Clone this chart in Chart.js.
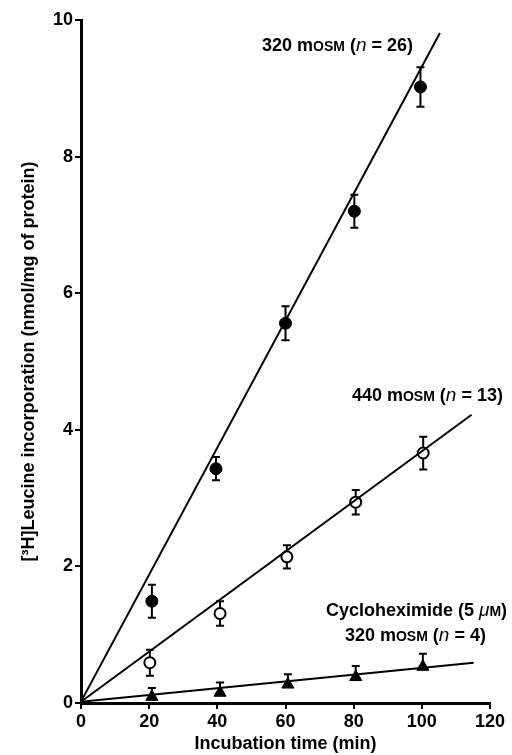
<!DOCTYPE html>
<html>
<head>
<meta charset="utf-8">
<script src="https://cdn.jsdelivr.net/npm/chart.js@4.4.1/dist/chart.umd.min.js"></script>
<style>
  html, body { margin: 0; padding: 0; background: #fff; }
  #wrap { width: 512px; height: 755px; }
</style>
</head>
<body>
<div id="wrap"><canvas id="chart" width="512" height="755"></canvas></div>
<script>
// incubation times (min) for each series
const timesIso = [20.8, 39.6, 60, 80.2, 99.6];
const timesHyper = [20.2, 40.8, 60.4, 80.6, 100.4];
const timesCyclo = [20.8, 40.8, 60.7, 80.6, 100.3];

// [3H]leucine incorporation (nmol/mg protein)
const iso320 = [1.49, 3.43, 5.56, 7.2, 9.02];
const iso320Err = [0.24, 0.17, 0.25, 0.24, 0.29];
const hyper440 = [0.59, 1.31, 2.14, 2.94, 3.66];
const hyper440Err = [0.19, 0.18, 0.17, 0.18, 0.24];
const cyclo320 = [0.09, 0.15, 0.27, 0.38, 0.53];
const cyclo320Err = [0.13, 0.15, 0.15, 0.16, 0.19];

// fitted regression lines (start / end points)
const fitIso = [{ x: 0, y: 0.02 }, { x: 105.3, y: 9.81 }];
const fitHyper = [{ x: 0, y: 0.02 }, { x: 114.6, y: 4.22 }];
const fitCyclo = [{ x: 0, y: 0.02 }, { x: 115.2, y: 0.59 }];

const xTicks = [0, 20, 40, 60, 80, 100, 120];
const yTicks = [0, 2, 4, 6, 8, 10];

const pts = (xs, ys) => xs.map((x, i) => ({ x, y: ys[i] }));

// rich text labels, anchored at their right edge in data units
const labels = [
  { x: 97.4, y: 9.63, parts: [["320 m"], ["OSM", "sc"], [" ("], ["n", "it"], [" = 26)"]] },
  { x: 123.8, y: 4.51, parts: [["440 m"], ["OSM", "sc"], [" ("], ["n", "it"], [" = 13)"]] },
  { x: 125, y: 1.36, parts: [["Cycloheximide (5 "], ["\u03bc", "it"], ["M", "sc"], [")"]] },
  { x: 118.8, y: 0.99, parts: [["320 m"], ["OSM", "sc"], [" ("], ["n", "it"], [" = 4)"]] },
];

function partFont(kind) {
  if (kind === "sc") return "bold 14px Arial, 'Liberation Sans', sans-serif";
  if (kind === "it") return "italic 19px Arial, 'Liberation Sans', sans-serif";
  return "bold 18px Arial, 'Liberation Sans', sans-serif";
}

const errorBars = {
  id: "errorBars",
  beforeDatasetsDraw(chart) {
    const { ctx, scales: { x, y } } = chart;
    const sets = [
      [timesIso, iso320, iso320Err, true],
      [timesHyper, hyper440, hyper440Err, true],
      [timesCyclo, cyclo320, cyclo320Err, false],
    ];
    ctx.save();
    ctx.strokeStyle = "#000";
    ctx.lineWidth = 2;
    sets.forEach(([xs, ys, es, both]) => {
      xs.forEach((t, i) => {
        const px = x.getPixelForValue(t);
        const top = y.getPixelForValue(ys[i] + es[i]);
        const bot = both ? y.getPixelForValue(ys[i] - es[i]) : y.getPixelForValue(ys[i]);
        ctx.beginPath();
        ctx.moveTo(px, top); ctx.lineTo(px, bot);
        ctx.moveTo(px - 4, top); ctx.lineTo(px + 4, top);
        if (both) { ctx.moveTo(px - 4, bot); ctx.lineTo(px + 4, bot); }
        ctx.stroke();
      });
    });
    ctx.restore();
  },
  afterDraw(chart) {
    const { ctx, scales: { x, y } } = chart;
    ctx.save();
    ctx.fillStyle = "#000";
    ctx.textBaseline = "alphabetic";
    ctx.textAlign = "left";
    labels.forEach(lab => {
      let w = 0;
      lab.parts.forEach(([t, k]) => { ctx.font = partFont(k); w += ctx.measureText(t).width; });
      let px = x.getPixelForValue(lab.x) - w;
      const py = y.getPixelForValue(lab.y) + 6;
      lab.parts.forEach(([t, k]) => {
        ctx.font = partFont(k);
        ctx.fillText(t, px, py);
        px += ctx.measureText(t).width;
      });
    });
    ctx.restore();
  },
};

const tickFont = { family: "Arial, 'Liberation Sans', sans-serif", size: 18, weight: "bold" };
const titleFont = { family: "Arial, 'Liberation Sans', sans-serif", size: 18, weight: "bold" };

new Chart(document.getElementById("chart"), {
  type: "scatter",
  data: {
    datasets: [
      { data: fitIso, showLine: true, borderColor: "#000", borderWidth: 2, pointRadius: 0 },
      { data: fitHyper, showLine: true, borderColor: "#000", borderWidth: 2, pointRadius: 0 },
      { data: fitCyclo, showLine: true, borderColor: "#000", borderWidth: 2, pointRadius: 0 },
      { data: pts(timesIso, iso320), pointStyle: "circle", pointRadius: 6, backgroundColor: "#000", borderColor: "#000", borderWidth: 1 },
      { data: pts(timesHyper, hyper440), pointStyle: "circle", pointRadius: 5.5, backgroundColor: "#fff", borderColor: "#000", borderWidth: 2 },
      { data: pts(timesCyclo, cyclo320), pointStyle: "triangle", pointRadius: 7, backgroundColor: "#000", borderColor: "#000", borderWidth: 1 },
    ],
  },
  options: {
    responsive: false,
    animation: false,
    layout: { padding: { top: 20, right: 22, left: 0, bottom: 0 } },
    plugins: { legend: { display: false }, tooltip: { enabled: false } },
    scales: {
      x: {
        type: "linear", min: 0, max: 120,
        afterBuildTicks: s => { s.ticks = xTicks.map(v => ({ value: v })); },
        afterFit: s => { s.height = 52; },
        border: { display: true, color: "#000", width: 3 },
        grid: { drawOnChartArea: false, drawTicks: true, tickLength: 6, color: "#000", lineWidth: 2 },
        ticks: { color: "#000", font: tickFont, padding: 2, maxRotation: 0 },
        title: { display: true, text: "Incubation time (min)", color: "#000", font: titleFont, padding: { top: 0, bottom: 0 } },
      },
      y: {
        type: "linear", min: 0, max: 10,
        afterBuildTicks: s => { s.ticks = yTicks.map(v => ({ value: v })); },
        afterFit: s => { s.width = 81; },
        border: { display: true, color: "#000", width: 3 },
        grid: { drawOnChartArea: false, drawTicks: true, tickLength: 6, color: "#000", lineWidth: 2 },
        ticks: { color: "#000", font: tickFont, padding: 2 },
        title: { display: true, text: "[\u00b3H]Leucine incorporation (nmol/mg of protein)", color: "#000", font: titleFont, padding: { top: 18, bottom: 0 } },
      },
    },
  },
  plugins: [errorBars],
});
</script>
</body>
</html>
